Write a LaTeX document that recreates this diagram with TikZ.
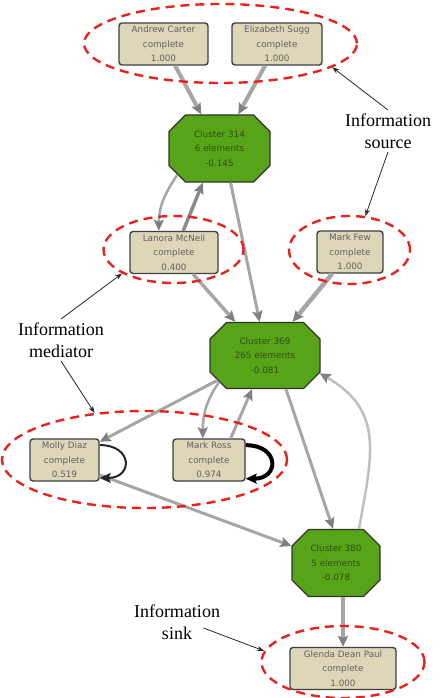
\documentclass[tikz,border=0pt]{standalone}
\usepackage{fontspec}
\setmainfont{Liberation Serif}
\newfontfamily\boxfont{DejaVu Sans}
\usepackage{tikz}
\usetikzlibrary{shapes.misc,shapes.geometric,arrows.meta,calc}
\definecolor{boxfill}{HTML}{DED6B8}
\definecolor{clusterfill}{HTML}{58A418}
\definecolor{clustertext}{HTML}{2E4F12}
\definecolor{ringred}{HTML}{E8231E}

\tikzset{
  person/.style={draw=black!75, line width=1.4pt, fill=boxfill, rounded corners=3pt,
    align=center, font=\boxfont\fontsize{8.8}{14.5}\selectfont, text=black!62,
    minimum height=42pt, inner sep=0pt},
  clusterbox/.style={chamfered rectangle, chamfered rectangle xsep=7.5pt,
    chamfered rectangle ysep=9pt, draw=black!80, line width=1.2pt, fill=clusterfill,
    align=center, font=\boxfont\fontsize{8.8}{14.5}\selectfont, text=clustertext,
    inner sep=0pt},
  ring/.style={ellipse, draw=ringred, line width=2.4pt, dash pattern=on 9pt off 6pt},
  flow/.style={draw=black!35, -{Stealth[length=11pt,width=10pt,inset=2pt,color=black!50]}},
  selfloop/.style={draw=black!85, -{Stealth[length=11pt,width=10pt,inset=2pt]}},
  hint/.style={draw=black!85, line width=0.8pt, -{Stealth[length=7pt,width=5pt]}},
  hinttext/.style={align=center, font=\fontsize{18}{22}\selectfont}
}

\begin{document}
\begin{tikzpicture}[x=1pt,y=-1pt]
  \useasboundingbox (0,0) rectangle (443,698);
  % people
  \node[person, minimum width=89pt] (andrew) at (163.5,44) {Andrew Carter\\complete\\1.000};
  \node[person, minimum width=90pt] (elizabeth) at (277,44) {Elizabeth Sugg\\complete\\1.000};
  \node[person, minimum width=88pt] (lanora) at (174,252.5) {Lanora McNeil\\complete\\0.400};
  \node[person, minimum width=66pt] (markfew) at (350,252) {Mark Few\\complete\\1.000};
  \node[person, minimum width=69pt] (molly) at (64.5,460) {Molly Diaz\\complete\\0.519};
  \node[person, minimum width=72pt] (ross) at (209,460) {Mark Ross\\complete\\0.974};
  \node[person, minimum width=106pt] (glenda) at (343,668.5) {Glenda Dean Paul\\complete\\1.000};
  % clusters
  \node[clusterbox, minimum width=101pt, minimum height=67pt] (c314) at (219.5,148.5) {Cluster 314\\6 elements\\-0.145};
  \node[clusterbox, minimum width=110pt, minimum height=66pt] (c369) at (265,355.5) {Cluster 369\\265 elements\\-0.081};
  \node[clusterbox, minimum width=88pt, minimum height=67pt] (c380) at (336,563) {Cluster 380\\5 elements\\-0.078};

  % edges
  \draw[flow, line width=4pt] (andrew) -- (c314);
  \draw[flow, line width=4pt] (elizabeth) -- (c314);
  \draw[flow, line width=2.5pt] (c314.212) to[out=235,in=90] (lanora.125);
  \draw[flow, line width=3.5pt, draw=black!45] (lanora.67) -- (c314.244);
  \draw[flow, line width=3pt] (c314.-72) -- (c369.99);
  \draw[flow, line width=3.5pt] (lanora) -- (c369);
  \draw[flow, line width=4.5pt] (markfew) -- (c369);
  \draw[flow, line width=3pt] (c369) -- (molly);
  \draw[flow, line width=2.5pt] (c369.210) to[out=235,in=90] (ross.106);
  \draw[flow, line width=3pt] (ross.45) -- (c369.249);
  \draw[flow, line width=3pt] (c369.-58) -- (c380.95);
  \draw[flow, line width=2.5pt, draw=black!25] (c380.56) to[out=80,in=-30,looseness=1.2] (c369.-18);
  \draw[flow, line width=3pt] (molly.-23) -- (c380.159);
  \draw[flow, line width=3.5pt] (c380.south -| glenda.north) -- (glenda);
  % self loops
  \draw[selfloop, line width=2pt] (molly.23) to[out=0,in=0,looseness=2.6] (molly.-27);
  \draw[selfloop, line width=4pt, draw=black] (ross.22) to[out=0,in=0,looseness=2.6] (ross.-27);

  % dashed groups
  \node[ring, minimum width=273pt, minimum height=79pt] (topring) at (220.5,43.5) {};
  \node[ring, minimum width=140pt, minimum height=67pt] (lanring) at (173.5,249.5) {};
  \node[ring, minimum width=121pt, minimum height=68pt] (fewring) at (349.5,250) {};
  \node[ring, minimum width=285pt, minimum height=97pt] (midring) at (144.5,459.5) {};
  \node[ring, minimum width=163pt, minimum height=72pt] (glring) at (343,662) {};

  % labels
  \node[hinttext] (source) at (388,131) {Information\\source};
  \node[hinttext] (mediator) at (61,340) {Information\\mediator};
  \node[hinttext] (sink) at (177,622) {Information\\sink};
  \draw[hint] (source.north) -- (topring.-12);
  \draw[hint] (source.south) -- (fewring.65);
  \draw[hint] (mediator.north) -- (lanring.205);
  \draw[hint] (mediator.south) -- (midring.137);
  \draw[hint] ([xshift=-20pt,yshift=-6pt]sink.east) -- (glring.172);
\end{tikzpicture}
\end{document}
